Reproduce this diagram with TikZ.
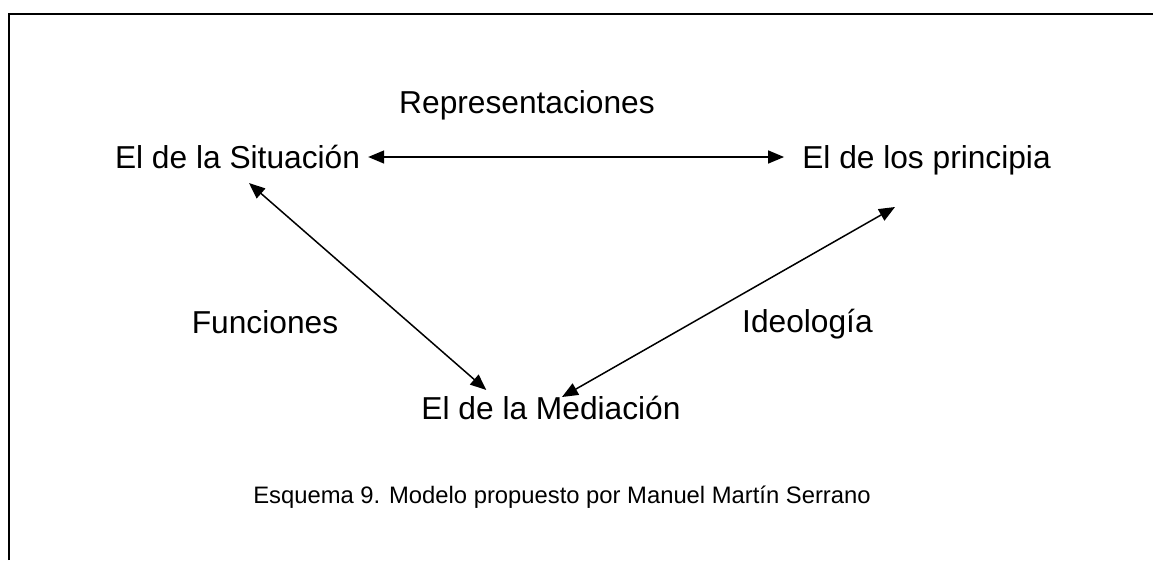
\documentclass[tikz,border=0pt]{standalone}
\usepackage{fontspec}
\setmainfont{Liberation Sans}
\usetikzlibrary{arrows.meta,calc}
\begin{document}
\begin{tikzpicture}[x=1pt,y=-1pt,
  lbl/.style={inner sep=0pt,anchor=base,font=\fontsize{31.7}{36}\selectfont},
  captxt/.style={inner sep=0pt,anchor=base,font=\fontsize{23.8}{28}\selectfont},
  conn/.style={line width=1.5pt,{Triangle[length=16pt,width=13pt]}-{Triangle[length=16pt,width=13pt]}},
  framestyle/.style={line width=2.2pt}]
\useasboundingbox (0,0) rectangle (1153,560);
\fill[white] (0,0) rectangle (1153,560);
\draw[framestyle] (9,560) -- (9,14) -- (1153,14);
\node[lbl] (rep) at (527,113) {Representaciones};
\node[lbl] (sit) at (237.5,168) {El de la Situación};
\node[lbl] (pri) at (926.5,168) {El de los principia};
\node[lbl] (fun) at (265,333) {Funciones};
\node[lbl,anchor=base west] (ide) at (742,332) {Ideología};
\node[lbl] (med) at (551,419) {El de la Mediación};
\node[captxt] (esq) at (562,503) {Esquema 9. Modelo propuesto por Manuel Martín Serrano};
\draw[conn] ([xshift=8pt,yshift=11pt]sit.base east) -- ([xshift=-18pt,yshift=11pt]pri.base west);
\draw[conn] ([xshift=11.5pt,yshift=-15pt]sit.base) -- ([xshift=65pt,yshift=29pt]med.base west);
\draw[conn] ([xshift=-31.5pt,yshift=-39pt]pri.base) -- ([xshift=11pt,yshift=22pt]med.base);
\end{tikzpicture}
\end{document}
